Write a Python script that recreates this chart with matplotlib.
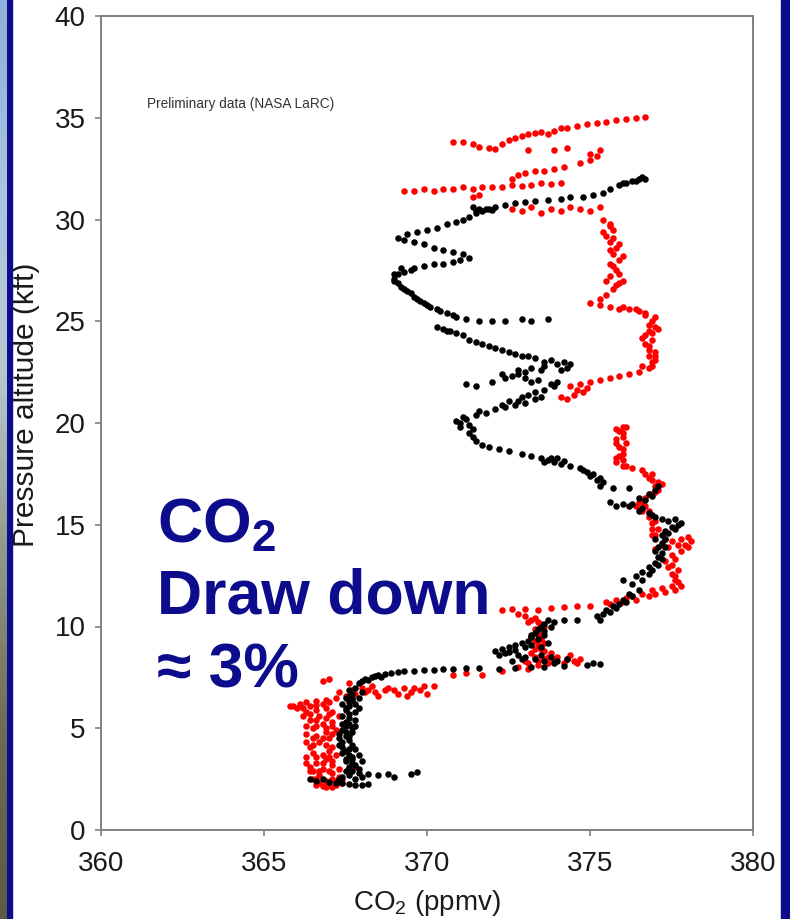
import matplotlib.pyplot as plt
import numpy as np
from matplotlib.patches import Rectangle
from matplotlib.colors import LinearSegmentedColormap

plt.rcParams['font.family'] = ['Liberation Sans', 'DejaVu Sans']
plt.rcParams['mathtext.fontset'] = 'custom'
plt.rcParams['mathtext.rm'] = 'Liberation Sans'
plt.rcParams['mathtext.it'] = 'Liberation Sans:italic'
plt.rcParams['mathtext.bf'] = 'Liberation Sans:bold'
plt.rcParams['mathtext.default'] = 'regular'

# (CO2 ppmv, pressure altitude kft) -- first profile, black
black_low = [
    (366.4, 2.5), (366.6, 2.4), (366.8, 2.5), (367.0, 2.35), (367.2, 2.3), (367.4, 2.3),
    (367.6, 2.25), (367.8, 2.2), (368.0, 2.2), (368.2, 2.25),
    (367.9, 2.8), (368.2, 2.75), (368.5, 2.7), (368.8, 2.75), (369.0, 2.6), (369.5, 2.75), (369.7, 2.85),
    (367.4, 2.6), (367.5, 2.9), (367.6, 3.1), (367.7, 3.3), (367.7, 3.5), (367.6, 3.7), (367.5, 3.9),
    (367.4, 4.1), (367.4, 4.3), (367.3, 4.5), (367.3, 4.7), (367.4, 4.9), (367.5, 5.1), (367.5, 5.3),
    (367.6, 5.5), (367.6, 5.7), (367.5, 5.9), (367.6, 6.1), (367.6, 6.3), (367.7, 6.5), (367.7, 6.7),
    (367.6, 6.9), (367.8, 7.0), (367.7, 3.6), (367.8, 3.2), (367.6, 4.0), (367.5, 4.6), (367.7, 5.0),
    (367.4, 5.6), (367.8, 6.2), (367.5, 3.4), (367.4, 3.8), (367.6, 4.4), (367.5, 4.8), (367.6, 5.2),
    (367.5, 6.0), (367.7, 6.4), (367.6, 6.6), (367.7, 2.9), (367.3, 2.5),
    (367.9, 3.0), (368.0, 3.4), (367.9, 3.7), (367.8, 4.0), (367.7, 4.2), (367.6, 4.6), (367.7, 4.8),
    (367.8, 5.1), (367.8, 5.4), (367.8, 5.8), (367.9, 6.0), (367.9, 6.5), (368.0, 6.8), (367.5, 6.5),
    (367.4, 6.2), (367.4, 5.2), (367.3, 4.2), (367.5, 3.5), (367.6, 2.7), (367.8, 2.5), (368.0, 2.6),
]
black_mid = [
    (367.9, 7.2), (368.1, 7.4), (368.3, 7.5), (368.5, 7.6), (368.7, 7.65), (368.9, 7.7), (369.1, 7.75),
    (369.3, 7.8), (369.6, 7.8), (369.9, 7.85), (370.2, 7.85), (370.5, 7.9), (370.8, 7.9), (371.2, 7.95),
    (371.6, 7.95), (372.2, 7.9), (372.7, 7.95), (373.2, 8.0), (373.6, 8.0), (374.2, 8.05), (374.9, 8.1),
    (375.1, 8.2), (375.3, 8.15), (368.0, 7.3), (368.2, 7.35), (368.4, 7.55), (368.6, 7.5),
    (372.1, 8.8), (372.3, 8.9), (372.5, 9.0), (372.7, 9.1), (372.9, 9.2), (373.1, 9.3), (373.2, 9.5),
    (373.3, 9.7), (373.4, 9.9), (373.5, 10.0), (373.6, 10.1), (373.2, 9.6), (372.4, 8.7), (372.8, 8.6),
    (373.0, 8.5), (373.3, 8.4), (373.6, 8.3), (373.8, 8.5), (374.0, 8.3), (372.6, 8.3), (373.5, 9.0),
    (373.7, 9.2), (372.2, 8.6), (372.5, 8.75), (372.7, 8.85), (373.0, 9.0), (373.2, 9.1), (373.4, 9.4),
    (373.6, 9.6), (373.6, 9.8), (373.8, 10.0), (373.7, 10.3), (373.9, 8.2), (374.3, 8.4), (372.9, 8.4),
    (373.5, 8.6),
    (373.9, 10.2), (374.2, 10.3), (374.6, 10.3), (375.2, 10.5), (375.4, 10.6), (375.5, 10.8),
    (375.7, 11.0), (376.0, 11.3), (376.2, 11.6), (376.0, 12.3), (376.4, 12.5), (376.6, 12.7),
    (376.8, 12.9), (377.0, 13.1), (377.1, 13.4), (377.0, 13.7), (377.1, 13.9), (377.2, 14.1),
    (377.0, 14.3), (377.2, 14.5), (377.3, 14.7), (377.5, 14.9), (377.7, 15.0), (377.4, 15.2),
    (377.0, 15.4), (376.8, 15.6), (376.6, 15.8), (376.3, 16.0), (376.0, 16.0), (375.8, 15.9),
    (375.6, 16.1), (376.5, 16.3), (376.8, 16.5), (377.0, 16.7), (376.9, 16.4), (375.3, 16.9),
    (375.7, 16.8), (376.2, 16.8), (375.3, 17.3), (375.1, 17.5), (374.9, 17.6), (374.7, 17.8),
    (374.4, 17.9), (374.1, 18.0), (373.9, 18.1), (373.7, 18.2), (373.5, 18.3),
    (375.3, 10.3), (375.6, 10.7), (375.8, 10.9), (375.9, 11.1), (376.1, 11.2), (376.3, 11.5),
    (376.5, 11.8), (376.3, 12.1), (376.6, 12.3), (376.8, 12.6), (376.9, 12.8), (377.1, 13.0),
    (377.2, 13.3), (377.2, 13.6), (377.3, 13.9), (377.3, 14.3), (377.4, 14.6), (377.6, 14.8),
    (377.8, 15.1), (377.6, 15.3), (377.2, 15.3), (376.9, 15.5), (376.5, 15.7), (376.2, 15.9),
    (375.4, 17.1), (375.2, 17.2), (375.0, 17.4), (374.8, 17.7), (374.2, 18.15), (373.8, 18.3),
    (373.6, 18.1), (374.0, 18.3), (376.7, 16.2), (377.1, 16.9),
]
black_high = [
    (373.2, 18.4), (372.9, 18.5), (372.5, 18.6), (372.2, 18.7), (371.9, 18.8), (371.7, 18.9),
    (371.5, 19.1), (371.4, 19.3), (371.3, 19.5), (371.4, 19.7), (371.3, 19.9), (371.0, 20.0),
    (370.9, 20.1), (371.2, 20.2), (371.5, 20.4), (371.8, 20.5), (372.1, 20.7), (372.4, 20.8),
    (372.7, 20.9), (373.0, 21.0), (373.3, 21.2), (372.5, 21.1), (372.9, 21.3), (373.3, 21.5),
    (373.6, 21.6), (373.9, 21.8), (374.0, 22.0), (373.4, 22.1), (373.0, 22.2), (372.6, 22.3),
    (372.3, 22.4), (371.2, 21.9), (371.5, 21.8), (372.0, 22.0), (372.8, 22.6), (373.2, 22.7),
    (373.6, 22.8), (374.0, 22.9), (374.3, 22.7), (374.4, 22.9), (373.8, 23.1), (373.3, 23.2),
    (372.9, 23.3), (372.5, 23.5), (372.1, 23.7), (371.7, 23.9), (371.3, 24.1), (370.9, 24.4),
    (370.5, 24.6), (370.3, 24.7), (370.6, 24.5),
    (371.0, 19.8), (371.1, 20.3), (371.6, 20.6), (372.3, 20.9), (372.8, 21.1), (373.1, 21.4),
    (373.5, 21.3), (373.8, 21.9), (373.2, 22.0), (372.8, 22.4), (372.4, 22.2), (373.0, 22.5),
    (373.5, 22.6), (374.1, 22.6), (374.2, 23.0), (373.6, 23.0), (373.1, 23.3), (372.7, 23.4),
    (372.3, 23.6), (371.9, 23.8), (371.5, 24.0), (371.1, 24.3), (370.7, 24.5),
    (371.6, 25.0), (372.0, 25.0), (372.4, 25.0), (372.9, 25.1), (373.2, 25.0), (373.7, 25.1),
    (370.9, 25.2), (370.6, 25.4), (370.3, 25.6), (370.0, 25.8), (369.8, 26.0), (369.6, 26.2),
    (369.4, 26.5), (369.2, 26.7), (369.1, 26.9), (369.0, 27.1), (369.1, 27.3), (369.3, 27.4),
    (369.5, 27.5), (369.2, 27.6),
    (371.2, 25.1), (370.8, 25.3), (370.4, 25.5), (370.1, 25.7), (369.9, 25.9), (369.7, 26.1),
    (369.5, 26.4), (369.3, 26.6), (369.0, 27.0), (369.0, 27.3),
    (369.6, 27.6), (369.9, 27.7), (370.2, 27.8), (370.5, 27.8), (370.8, 27.9), (371.0, 28.0),
    (371.3, 28.1), (371.1, 28.3), (370.8, 28.4), (370.5, 28.5), (370.2, 28.6), (369.9, 28.8),
    (369.6, 28.9), (369.3, 29.0), (369.1, 29.1),
    (369.4, 29.3), (369.7, 29.4), (370.0, 29.5), (370.3, 29.6), (370.6, 29.8), (370.9, 29.9),
    (371.1, 30.0), (371.3, 30.1), (371.5, 30.3), (371.7, 30.4), (371.9, 30.5), (371.4, 30.6),
    (371.6, 30.5), (372.1, 30.6), (372.4, 30.7), (372.7, 30.8), (373.0, 30.85), (373.3, 30.9),
    (373.7, 30.95), (374.1, 31.0), (374.4, 31.1), (374.8, 31.1), (375.1, 31.2), (375.4, 31.3),
    (375.6, 31.5), (375.9, 31.7), (376.1, 31.8), (376.3, 31.9), (376.5, 32.0), (376.7, 32.0),
    (371.5, 30.4), (371.8, 30.5), (372.0, 30.45), (376.0, 31.8), (376.6, 32.1), (376.4, 31.9),
]

# second profile, red
red_low = [
    (366.6, 2.2), (366.8, 2.15), (367.0, 2.2), (367.2, 2.2), (367.4, 2.3), (366.9, 2.4), (367.1, 2.5),
    (367.3, 2.6), (366.7, 2.7), (366.5, 2.9), (366.8, 3.0), (367.0, 2.9), (367.3, 3.0), (367.6, 3.0),
    (367.8, 3.1), (366.4, 3.1), (366.6, 3.3), (366.9, 3.5), (367.1, 3.4), (366.5, 3.8), (366.8, 3.7),
    (367.0, 3.9), (366.4, 4.1), (366.7, 4.3), (367.0, 4.5), (366.6, 4.6), (366.9, 4.8), (367.2, 4.9),
    (366.5, 5.0), (366.8, 5.2), (367.1, 5.3), (366.4, 5.4), (366.7, 5.6), (367.0, 5.7), (367.3, 5.6),
    (366.3, 5.8), (366.6, 5.9), (366.9, 6.0), (365.9, 6.1), (366.1, 6.2), (366.3, 6.3), (366.6, 6.35),
    (366.9, 6.4), (367.2, 6.5), (367.5, 6.6), (367.8, 6.7), (368.1, 6.8), (368.4, 6.8), (368.7, 6.9),
    (369.0, 6.9), (369.3, 7.0), (369.6, 7.0), (369.9, 7.1), (370.2, 7.1), (367.0, 7.4), (366.8, 7.3),
    (367.6, 7.2), (368.0, 7.0), (368.5, 6.6), (369.1, 6.7), (369.4, 6.6), (370.0, 6.7),
    (365.8, 6.1), (366.0, 6.0), (366.2, 6.0), (366.4, 6.1), (366.6, 6.15), (366.8, 6.2), (367.0, 6.3),
    (366.2, 5.6), (366.4, 5.7), (366.6, 5.4), (366.9, 5.5), (367.1, 5.8), (366.3, 5.1), (366.6, 5.1),
    (366.9, 5.0), (367.1, 5.1), (366.3, 4.7), (366.5, 4.5), (366.8, 4.5), (367.1, 4.7), (366.3, 4.3),
    (366.5, 4.2), (366.9, 4.2), (367.1, 4.1), (366.3, 3.6), (366.6, 3.6), (367.0, 3.6), (367.2, 3.7),
    (366.3, 3.3), (366.8, 3.3), (367.1, 3.2), (366.4, 2.9), (366.7, 2.9), (367.1, 2.8), (366.5, 2.5),
    (366.7, 2.3), (367.0, 2.3), (367.2, 2.4), (367.4, 2.5), (366.9, 2.1), (367.1, 2.1), (366.6, 2.5),
    (368.2, 6.9), (368.8, 7.0), (369.5, 6.8), (369.8, 6.9), (367.3, 6.8), (367.7, 6.9), (368.3, 7.1),
]
red_mid = [
    (370.8, 7.6), (371.2, 7.7), (371.7, 7.6), (372.3, 7.8), (372.8, 8.0), (373.1, 7.9), (373.4, 8.1),
    (373.7, 8.2), (373.0, 8.3), (373.3, 8.5), (373.6, 8.4), (373.9, 8.3), (374.2, 8.2), (374.5, 8.3),
    (374.7, 8.4), (374.4, 8.6), (373.8, 8.7), (373.5, 8.9), (373.4, 9.1), (373.3, 9.3), (373.2, 9.5),
    (373.4, 9.7), (373.3, 9.9), (373.5, 10.1), (373.2, 10.3), (373.0, 10.5), (372.8, 10.6),
    (373.1, 8.2), (373.4, 8.3), (373.7, 8.5), (374.0, 8.5), (374.3, 8.4), (374.6, 8.2), (373.2, 8.7),
    (373.6, 8.8), (373.3, 8.9), (373.6, 9.2), (373.5, 9.4), (373.4, 9.6), (373.6, 10.0), (373.4, 10.2),
    (373.3, 10.4), (373.1, 10.2),
    (372.3, 10.8), (372.6, 10.85), (373.0, 10.85), (373.4, 10.8), (373.8, 10.9), (374.2, 10.95),
    (374.6, 11.0), (375.0, 11.0),
    (375.5, 11.2), (375.8, 11.3), (376.1, 11.4), (376.3, 11.5), (376.6, 11.6), (376.9, 11.8),
    (377.2, 11.9), (377.5, 12.0), (377.8, 12.0), (377.6, 12.3), (377.5, 12.6), (377.4, 12.9),
    (377.3, 13.2), (377.5, 13.5), (377.8, 13.7), (378.0, 13.9), (378.1, 14.2), (377.8, 14.3),
    (377.5, 14.2), (377.2, 14.0), (377.0, 13.8), (376.9, 14.5), (377.1, 14.8), (376.9, 15.1),
    (376.8, 15.4), (376.6, 15.7), (376.4, 15.9), (376.5, 16.1), (376.7, 16.3), (376.9, 16.5),
    (377.1, 16.7), (377.0, 16.9), (377.1, 17.1), (376.8, 17.3), (376.9, 17.5), (376.6, 17.7),
    (376.3, 17.8), (376.0, 17.9), (375.8, 18.1), (375.9, 18.4), (376.0, 18.7), (375.8, 19.0),
    (376.0, 19.3), (375.9, 19.6), (376.1, 19.8),
    (375.6, 11.1), (376.0, 11.2), (376.4, 11.3), (376.8, 11.5), (377.0, 11.6), (377.3, 11.7),
    (377.6, 11.8), (377.7, 12.2), (377.6, 12.5), (377.7, 12.8), (377.5, 13.0), (377.6, 13.3),
    (377.9, 14.0), (378.0, 14.4), (377.7, 14.0), (377.4, 13.9), (377.3, 14.3), (377.0, 14.5),
    (376.9, 14.8), (377.0, 15.2), (376.8, 15.7), (376.7, 15.9), (376.6, 16.1), (376.8, 16.5),
    (377.0, 16.6), (377.2, 17.0), (376.9, 17.2), (376.7, 17.5),
    (376.1, 17.9), (376.0, 18.2), (375.8, 18.3), (376.0, 18.5), (375.9, 18.8), (376.1, 19.0),
    (375.8, 19.2), (376.0, 19.5), (375.8, 19.7), (376.0, 19.8),
]
red_high = [
    (374.1, 21.3), (374.3, 21.2), (374.5, 21.4), (374.6, 21.6), (374.8, 21.5), (374.4, 21.8),
    (374.7, 21.9), (375.0, 22.0), (374.9, 21.7), (375.3, 22.1), (375.6, 22.2), (375.9, 22.3),
    (376.2, 22.4), (376.5, 22.5), (376.8, 22.7), (376.9, 23.0), (377.0, 23.3), (376.8, 23.6),
    (376.7, 23.9), (376.6, 24.2), (376.8, 24.5), (377.0, 24.7), (376.9, 25.0), (376.7, 25.3),
    (376.5, 25.5), (376.2, 25.6), (375.9, 25.6), (375.6, 25.7), (375.3, 25.8), (375.0, 25.9),
    (376.6, 22.8), (376.9, 22.8), (377.0, 23.1), (376.8, 23.3), (377.0, 23.5), (376.8, 23.8),
    (376.9, 24.1), (376.7, 24.3), (376.9, 24.4), (377.1, 24.6), (376.8, 24.8), (377.0, 25.2),
    (376.7, 25.4), (376.4, 25.6), (376.0, 25.7),
    (375.3, 26.1), (375.5, 26.3), (375.7, 26.6), (375.9, 26.9), (375.6, 27.2), (375.8, 27.5),
    (375.6, 27.8), (375.9, 28.0), (375.7, 28.3), (375.8, 28.6), (375.6, 28.9), (375.5, 29.2),
    (375.7, 29.5), (375.6, 29.8), (375.4, 30.0), (375.8, 26.8), (375.5, 27.0), (375.9, 27.3),
    (375.7, 27.7), (376.0, 28.2), (375.6, 28.5), (375.9, 28.8), (375.7, 29.1), (375.4, 29.4),
    (375.6, 29.7), (376.0, 27.0),
    (372.6, 30.5), (372.9, 30.4), (373.2, 30.6), (373.5, 30.3), (373.8, 30.5), (374.1, 30.4),
    (374.4, 30.6), (374.7, 30.5), (375.0, 30.4), (375.3, 30.6),
    (369.3, 31.4), (369.6, 31.4), (369.9, 31.5), (370.2, 31.4), (370.5, 31.5), (370.8, 31.5),
    (371.1, 31.6), (371.4, 31.5), (371.7, 31.6), (372.0, 31.6), (372.3, 31.6), (372.6, 31.7),
    (372.9, 31.65), (373.2, 31.7), (373.5, 31.8), (373.8, 31.75), (374.1, 31.8), (371.4, 31.1),
    (371.6, 31.2),
    (372.6, 32.0), (372.8, 32.2), (373.0, 32.3), (373.3, 32.4), (373.6, 32.4), (373.9, 32.5),
    (374.2, 32.6), (374.7, 32.8), (375.0, 32.9), (375.2, 33.1), (375.3, 33.4), (375.0, 33.2),
    (373.1, 33.4), (373.9, 33.4), (374.3, 33.5),
    (370.8, 33.8), (371.1, 33.8), (371.4, 33.7), (371.6, 33.55), (371.9, 33.5), (372.1, 33.45),
    (372.3, 33.7), (372.5, 33.9), (372.7, 34.0), (372.9, 34.1), (373.1, 34.2), (373.3, 34.25),
    (373.5, 34.3), (373.7, 34.2), (373.9, 34.35), (374.1, 34.5), (374.3, 34.5), (374.6, 34.6),
    (374.9, 34.7), (375.2, 34.75), (375.5, 34.8), (375.8, 34.9), (376.1, 34.95), (376.4, 35.0),
    (376.7, 35.05),
]

x_ticks = [360, 365, 370, 375, 380]
y_ticks = [0, 5, 10, 15, 20, 25, 30, 35, 40]

navy = '#0c0c8c'
grey = '#808080'
ink = '#1a1a1a'

fig = plt.figure(figsize=(7.9, 9.19), dpi=100)
fig.patch.set_facecolor('white')

# slide frame: photo strip and navy bands at the edges
fig.patches.append(Rectangle((0, 0), 12 / 790, 1, transform=fig.transFigure, color=navy, zorder=0))
fig.patches.append(Rectangle((781 / 790, 0), 9 / 790, 1, transform=fig.transFigure, color=navy, zorder=0))
strip = fig.add_axes([0, 0, 7 / 790, 1])
strip.set_zorder(2)
strip_cmap = LinearSegmentedColormap.from_list(
    'strip', ['#8fb0da', '#a9c3de', '#b8c8d2', '#8f9a8a', '#6f6a52', '#5e5a44'])
strip.imshow(np.linspace(0, 1, 100).reshape(-1, 1), cmap=strip_cmap, aspect='auto')
strip.axis('off')

ax = fig.add_axes([101 / 790, 1 - 830 / 919, 652 / 790, 814 / 919])

red = np.array(red_low + red_mid + red_high)
black = np.array(black_low + black_mid + black_high)
ax.scatter(red[:, 0], red[:, 1], s=22, color='#ff0000', linewidths=0, zorder=2)
ax.scatter(black[:, 0], black[:, 1], s=22, color='black', linewidths=0, zorder=3)

ax.set_xlim(360, 380)
ax.set_ylim(0, 40)
ax.set_xticks(x_ticks)
ax.set_yticks(y_ticks)
for s in ax.spines.values():
    s.set_color(grey)
    s.set_linewidth(1.4)
ax.tick_params(axis='both', direction='out', length=4, width=1.2, color=grey,
               labelsize=20, labelcolor=ink)
ax.tick_params(axis='x', pad=11)
ax.tick_params(axis='y', pad=7)

ax.set_xlabel(r'CO$_2$ (ppmv)', fontsize=20, color=ink)
ax.xaxis.set_label_coords(0.5, -0.071)
ax.set_ylabel('Pressure altitude (kft)', fontsize=21.5, color=ink)
ax.yaxis.set_label_coords(-0.094, 0.522)

ax.text(361.4, 35.7, 'Preliminary data (NASA LaRC)', fontsize=9.8, color='#333333', va='center')

big = dict(fontsize=45, fontweight='bold', color=navy, va='baseline', ha='left')
fig.text(157 / 790, 1 - 542 / 919, r'CO$_\mathbf{2}$', **big)
fig.text(157 / 790, 1 - 613 / 919, 'Draw down', **big)
fig.text(157 / 790, 1 - 688 / 919, '≈ 3%', **big)

fig.savefig('out.png', dpi=100)
